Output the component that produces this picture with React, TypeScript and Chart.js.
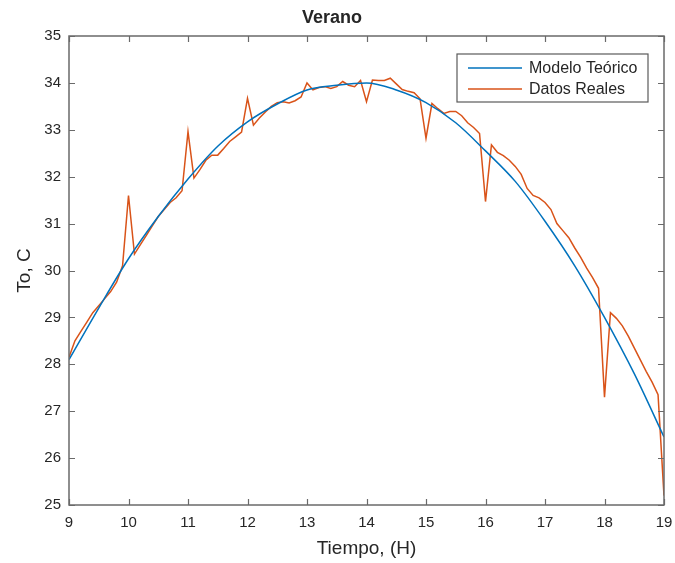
import React, { useEffect, useRef } from 'react';
import { Chart, registerables } from 'chart.js';

Chart.register(...registerables);

// ---- data ----
const realHours = [
  9.0, 9.1, 9.2, 9.3, 9.4, 9.5, 9.6, 9.7, 9.8, 9.9,
  10.0, 10.1, 10.2, 10.3, 10.4, 10.5, 10.6, 10.7, 10.8, 10.9,
  11.0, 11.1, 11.2, 11.3, 11.4, 11.5, 11.6, 11.7, 11.8, 11.9,
  12.0, 12.1, 12.2, 12.3, 12.4, 12.5, 12.6, 12.7, 12.8, 12.9,
  13.0, 13.1, 13.2, 13.3, 13.4, 13.5, 13.6, 13.7, 13.8, 13.9,
  14.0, 14.1, 14.2, 14.3, 14.4, 14.5, 14.6, 14.7, 14.8, 14.9,
  15.0, 15.1, 15.2, 15.3, 15.4, 15.5, 15.6, 15.7, 15.8, 15.9,
  16.0, 16.1, 16.2, 16.3, 16.4, 16.5, 16.6, 16.7, 16.8, 16.9,
  17.0, 17.1, 17.2, 17.3, 17.4, 17.5, 17.6, 17.7, 17.8, 17.9,
  18.0, 18.1, 18.2, 18.3, 18.4, 18.5, 18.6, 18.7, 18.8, 18.9,
  19.0,
];
const realTemps = [
  28.15, 28.5, 28.7, 28.9, 29.1, 29.25, 29.4, 29.55, 29.75, 30.1,
  31.6, 30.35, 30.55, 30.75, 30.95, 31.15, 31.3, 31.45, 31.55, 31.7,
  32.96, 31.97, 32.15, 32.35, 32.46, 32.46, 32.6, 32.75, 32.85, 32.95,
  33.67, 33.1, 33.25, 33.38, 33.5, 33.58, 33.6, 33.57, 33.62, 33.7,
  34.0, 33.85, 33.9, 33.92, 33.88, 33.92, 34.03, 33.95, 33.92, 34.05,
  33.6, 34.06, 34.05, 34.05, 34.1, 33.98, 33.86, 33.82, 33.79, 33.66,
  32.82, 33.56, 33.45, 33.35, 33.39, 33.39, 33.3, 33.15, 33.05, 32.92,
  31.47, 32.68, 32.52, 32.45, 32.35, 32.22, 32.05, 31.75, 31.6, 31.55,
  31.45, 31.3, 31.0, 30.85, 30.7, 30.48, 30.28, 30.05, 29.85, 29.62,
  27.3, 29.1, 28.98, 28.82, 28.6, 28.35, 28.1, 27.85, 27.62, 27.35,
  25.2,
];
const modelHours = [
  9.0, 9.5, 10.0, 10.5, 11.0, 11.5, 12.0, 12.5, 13.0, 13.5, 14.0,
  14.5, 15.0, 15.5, 16.0, 16.5, 17.0, 17.5, 18.0, 18.5, 19.0,
];
const modelTemps = [
  28.1, 29.2, 30.25, 31.15, 31.95, 32.65, 33.17, 33.55, 33.85, 33.95, 34.0,
  33.85, 33.58, 33.15, 32.55, 31.9, 31.05, 30.1, 29.0, 27.8, 26.45,
];
const xTicks = [9, 10, 11, 12, 13, 14, 15, 16, 17, 18, 19];
const yTicks = [25, 26, 27, 28, 29, 30, 31, 32, 33, 34, 35];
const seriesLabels = ['Modelo Teórico', 'Datos Reales'];
const titleText = 'Verano';
const xTitle = 'Tiempo, (H)';
const yTitle = 'To, C';

const BLUE = '#0072BD';
const ORANGE = '#D95319';
const AXIS = '#6a6a6a';
const TEXT = '#262626';
const FONT = "'Liberation Sans', Arial, Helvetica, sans-serif";

export default function App() {
  const ref = useRef<HTMLCanvasElement>(null);

  useEffect(() => {
    document.body.style.margin = '0';
    const canvas = ref.current;
    if (!canvas) return;

    const framePlugin = {
      id: 'matlabFrame',
      afterDatasetsDraw(chart: any) {
        const { ctx, chartArea: a, scales } = chart;
        const x = scales.x;
        const y = scales.y;
        ctx.save();
        ctx.strokeStyle = AXIS;
        ctx.lineWidth = 1.2;
        ctx.beginPath();
        const tl = 6;
        for (const v of xTicks) {
          const px = Math.round(x.getPixelForValue(v)) + 0.5;
          ctx.moveTo(px, a.bottom);
          ctx.lineTo(px, a.bottom - tl);
          ctx.moveTo(px, a.top);
          ctx.lineTo(px, a.top + tl);
        }
        for (const v of yTicks) {
          const py = Math.round(y.getPixelForValue(v)) + 0.5;
          ctx.moveTo(a.left, py);
          ctx.lineTo(a.left + tl, py);
          ctx.moveTo(a.right, py);
          ctx.lineTo(a.right - tl, py);
        }
        ctx.stroke();
        ctx.lineWidth = 1.5;
        ctx.strokeRect(a.left, a.top, a.right - a.left, a.bottom - a.top);

        // legend
        const bl = a.right - 207;
        const br = a.right - 16;
        const bt = a.top + 18;
        const bb = a.top + 66;
        ctx.fillStyle = '#ffffff';
        ctx.fillRect(bl, bt, br - bl, bb - bt);
        ctx.strokeStyle = '#5a5a5a';
        ctx.lineWidth = 1.2;
        ctx.strokeRect(bl, bt, br - bl, bb - bt);
        const rows = [a.top + 32, a.top + 53];
        const colors = [BLUE, ORANGE];
        ctx.font = `16px ${FONT}`;
        ctx.textBaseline = 'middle';
        ctx.textAlign = 'left';
        for (let i = 0; i < 2; i++) {
          ctx.strokeStyle = colors[i];
          ctx.lineWidth = 1.5;
          ctx.beginPath();
          ctx.moveTo(a.right - 196, rows[i]);
          ctx.lineTo(a.right - 142, rows[i]);
          ctx.stroke();
          ctx.fillStyle = TEXT;
          ctx.fillText(seriesLabels[i], a.right - 135, rows[i] + 1);
        }
        ctx.restore();
      },
    };

    const chart = new Chart(canvas, {
      type: 'line',
      data: {
        datasets: [
          {
            label: seriesLabels[0],
            data: modelHours.map((h, i) => ({ x: h, y: modelTemps[i] })),
            borderColor: BLUE,
            borderWidth: 1.5,
            pointRadius: 0,
            cubicInterpolationMode: 'monotone',
            fill: false,
          },
          {
            label: seriesLabels[1],
            data: realHours.map((h, i) => ({ x: h, y: realTemps[i] })),
            borderColor: ORANGE,
            borderWidth: 1.5,
            pointRadius: 0,
            tension: 0,
            fill: false,
          },
        ],
      },
      options: {
        animation: false,
        responsive: false,
        maintainAspectRatio: false,
        layout: { padding: { left: 0, right: 11, top: 0, bottom: 0 } },
        plugins: {
          legend: { display: false },
          tooltip: { enabled: false },
          title: {
            display: true,
            text: titleText,
            color: TEXT,
            font: { family: FONT, size: 18, weight: 'bold' },
            padding: { top: 7, bottom: 7.4 },
          },
        },
        scales: {
          x: {
            type: 'linear',
            min: 9,
            max: 19,
            afterBuildTicks: (s: any) => {
              s.ticks = xTicks.map((v) => ({ value: v }));
            },
            afterFit: (s: any) => {
              s.height = 58;
              s.paddingLeft = 0;
              s.paddingRight = 0;
            },
            grid: { display: false, drawTicks: false },
            border: { display: false },
            ticks: {
              color: TEXT,
              font: { family: FONT, size: 15 },
              padding: 9,
              maxRotation: 0,
              autoSkip: false,
            },
            title: {
              display: true,
              text: xTitle,
              color: TEXT,
              font: { family: FONT, size: 19 },
              padding: { top: 0, bottom: 2.6 },
            },
          },
          y: {
            type: 'linear',
            min: 25,
            max: 35,
            afterBuildTicks: (s: any) => {
              s.ticks = yTicks.map((v) => ({ value: v }));
            },
            afterFit: (s: any) => {
              s.width = 69;
              s.paddingTop = 0;
              s.paddingBottom = 0;
            },
            grid: { display: false, drawTicks: false },
            border: { display: false },
            ticks: {
              color: TEXT,
              font: { family: FONT, size: 15 },
              padding: 8,
              autoSkip: false,
            },
            title: {
              display: true,
              text: yTitle,
              color: TEXT,
              font: { family: FONT, size: 19 },
              padding: { top: 13.6, bottom: 0 },
            },
          },
        },
      },
      plugins: [framePlugin],
    });

    return () => chart.destroy();
  }, []);

  return (
    <div style={{ width: 675, height: 563, background: '#ffffff' }}>
      <canvas ref={ref} width={675} height={563} style={{ display: 'block' }} />
    </div>
  );
}
